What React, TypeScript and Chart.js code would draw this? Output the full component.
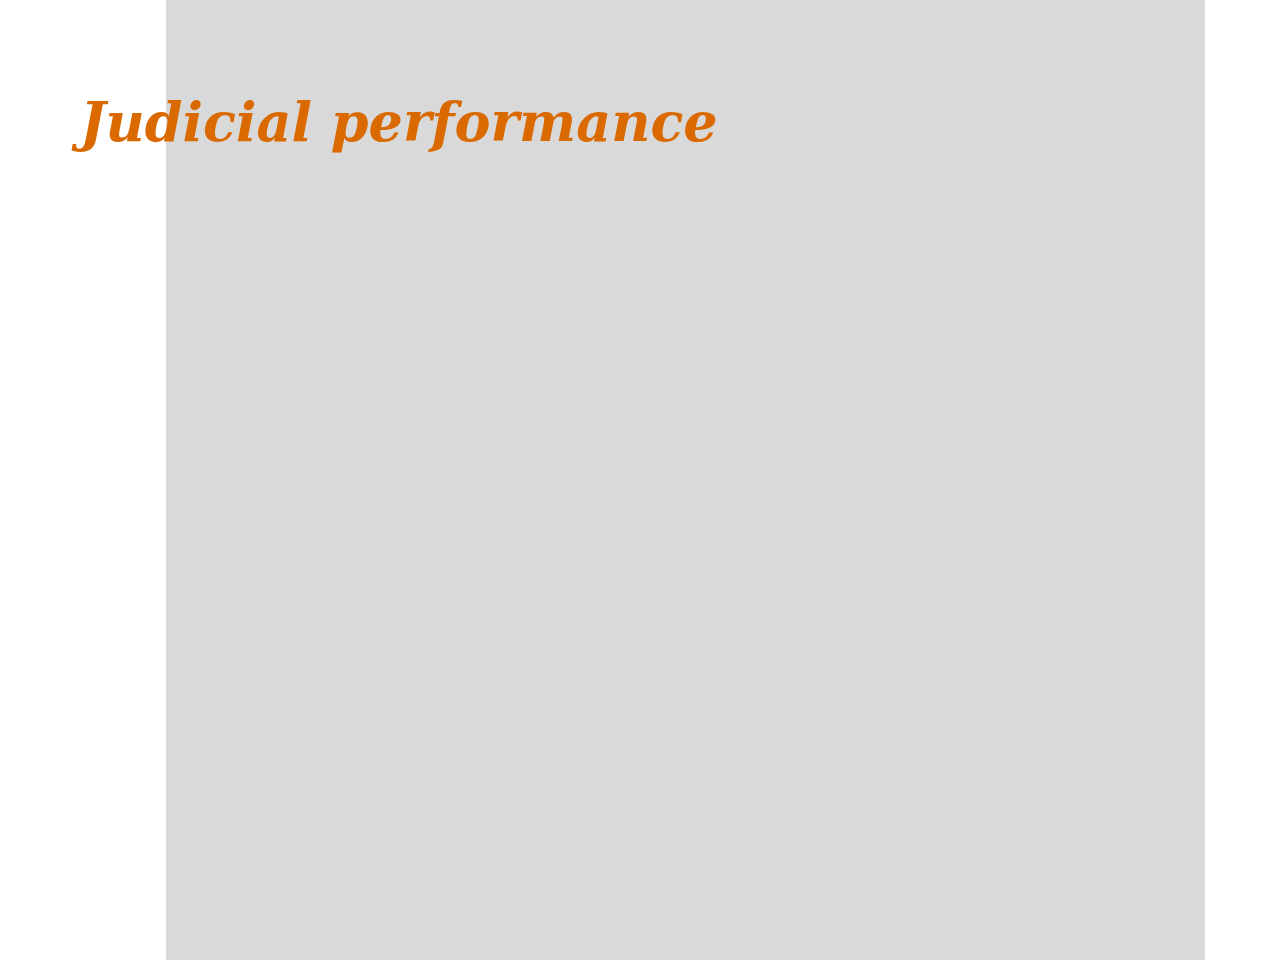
import React, { useEffect, useRef } from 'react';
import { Chart, registerables } from 'chart.js';

Chart.register(...registerables);

// One empty panel, nothing plotted on it yet
const categories = [''];
const panelValues = [1];
const title = 'Judicial performance';

const App: React.FC = () => {
  const chartRef = useRef<HTMLCanvasElement | null>(null);

  useEffect(() => {
    if (!chartRef.current) return;

    const chart = new Chart(chartRef.current, {
      type: 'bar',
      data: {
        labels: categories,
        datasets: [
          {
            data: panelValues,
            backgroundColor: '#d9d9d9',
            borderWidth: 0,
            categoryPercentage: 1,
            barPercentage: 1,
          },
        ],
      },
      options: {
        responsive: true,
        maintainAspectRatio: false,
        animation: false,
        layout: { padding: { left: 166, right: 75, top: 0, bottom: 0 } },
        plugins: {
          legend: { display: false },
          tooltip: { enabled: false },
        },
        scales: {
          x: { display: false, grid: { display: false } },
          y: { display: false, min: 0, max: 1 },
        },
      },
    });

    return () => chart.destroy();
  }, []);

  return (
    <div style={{ position: 'fixed', left: 0, top: 0, width: '1280px', height: '960px', background: '#fff' }}>
      <canvas ref={chartRef} />
      <div
        style={{
          position: 'absolute',
          left: '80px',
          top: '82px',
          fontFamily: '"DejaVu Serif", serif',
          fontWeight: 'bold',
          fontStyle: 'italic',
          fontSize: '54px',
          lineHeight: '80px',
          color: '#da6a00',
          whiteSpace: 'nowrap',
        }}
      >
        {title}
      </div>
    </div>
  );
};

export default App;
